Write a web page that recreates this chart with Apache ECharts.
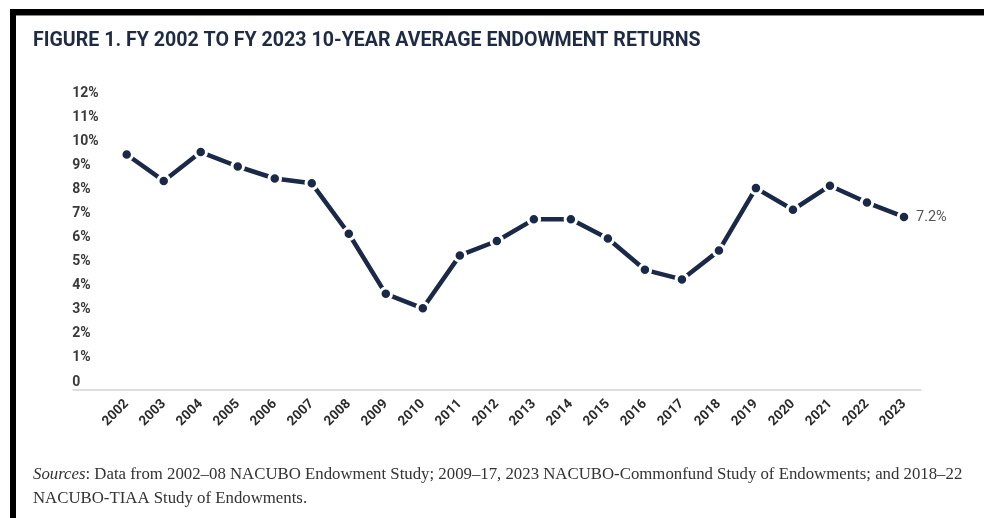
<!DOCTYPE html>
<html>
<head>
<meta charset="utf-8">
<script src="https://cdn.jsdelivr.net/npm/echarts@6/dist/echarts.min.js"></script>
<style>
  html, body { margin: 0; padding: 0; background: #fff; }
  #chart { width: 984px; height: 518px; }
</style>
</head>
<body>
<div id="chart"></div>
<script>
const titleText = 'FIGURE 1. FY 2002 TO FY 2023 10-YEAR AVERAGE ENDOWMENT RETURNS';
const years = ['2002','2003','2004','2005','2006','2007','2008','2009','2010','2011','2012',
               '2013','2014','2015','2016','2017','2018','2019','2020','2021','2022','2023'];
const returns = [9.8, 8.7, 9.9, 9.3, 8.8, 8.6, 6.5, 4.0, 3.4, 5.6, 6.2,
                 7.1, 7.1, 6.3, 5.0, 4.6, 5.8, 8.4, 7.5, 8.5, 7.8, 7.2];
const yMin = 0, yMax = 12, yStep = 1;
const sourceLabel = 'Sources';
const sourceLine1 = ': Data from 2002\u201308 NACUBO Endowment Study; 2009\u201317, 2023 NACUBO-Commonfund Study of Endowments; and 2018\u201322';
const sourceLine2 = 'NACUBO-TIAA Study of Endowments.';

const chart = echarts.init(document.getElementById('chart'), null, { renderer: 'canvas' });
const navy = '#1a2948';
const gridTop = 101.6, gridBottom = 128;
const serif = '"Liberation Serif", "DejaVu Serif", serif';

chart.setOption({
  backgroundColor: '#fff',
  animation: false,
  graphic: [
    { type: 'rect', shape: { x: 10, y: 9, width: 974, height: 6 }, style: { fill: '#000' } },
    { type: 'rect', shape: { x: 10, y: 15, width: 974, height: 1 }, style: { fill: '#888' } },
    { type: 'rect', shape: { x: 10, y: 9, width: 6, height: 509 }, style: { fill: '#000' } },
    { type: 'text', left: 33, top: 31, style: { text: titleText, fill: '#1f2a44',
        font: 'bold 19.6px Roboto, "Noto Sans", sans-serif' } },
    { type: 'text', left: 33, top: 466, style: {
        text: '{i|' + sourceLabel + '}{n|' + sourceLine1 + '}',
        rich: {
          i: { font: 'italic 16.8px ' + serif, fill: '#333' },
          n: { font: '16.8px ' + serif, fill: '#333' }
        } } },
    { type: 'text', left: 33, top: 490, style: { text: sourceLine2,
        font: '16.8px ' + serif, fill: '#333' } }
  ],
  grid: [
    { left: 108.2, right: 61.5, top: gridTop, bottom: gridBottom, containLabel: false },
    { left: 73, right: 63, top: gridTop, bottom: gridBottom, containLabel: false }
  ],
  xAxis: [
    {
      type: 'category', gridIndex: 0, data: years, boundaryGap: true,
      axisLine: { show: false }, axisTick: { show: false },
      axisLabel: { rotate: 45, margin: 12, color: '#2b2b2b', fontSize: 13.5, fontWeight: 'bold',
        fontFamily: 'Roboto, "Noto Sans", sans-serif', interval: 0 }
    },
    {
      type: 'value', gridIndex: 1, min: 0, max: 1,
      axisLine: { show: true, lineStyle: { color: '#d4d4d4', width: 1.5 } },
      axisTick: { show: false }, axisLabel: { show: false }, splitLine: { show: false }
    }
  ],
  yAxis: [
    {
      type: 'value', gridIndex: 0, min: yMin, max: yMax, interval: yStep,
      axisLine: { show: false }, axisTick: { show: false }, splitLine: { show: false },
      axisLabel: { align: 'left', margin: 36, verticalAlign: 'bottom', padding: [0, 0, 1, 0],
        color: '#3a3a3a', fontSize: 14, fontWeight: 'bold',
        fontFamily: 'Roboto, "Noto Sans", sans-serif',
        formatter: v => v === 0 ? '0' : v + '%' }
    },
    {
      type: 'value', gridIndex: 1, min: 0, max: 1, show: false
    }
  ],
  series: [
    {
      type: 'line', xAxisIndex: 0, yAxisIndex: 0, data: returns,
      lineStyle: { color: navy, width: 4.5 },
      symbol: 'circle', symbolSize: 11.5,
      itemStyle: { color: navy, borderColor: '#fff', borderWidth: 3 },
      endLabel: { show: true, formatter: p => p.value + '%', color: '#555', fontSize: 14.5,
        fontFamily: 'Roboto, "Noto Sans", sans-serif', distance: 12 }
    }
  ]
});
</script>
</body>
</html>
